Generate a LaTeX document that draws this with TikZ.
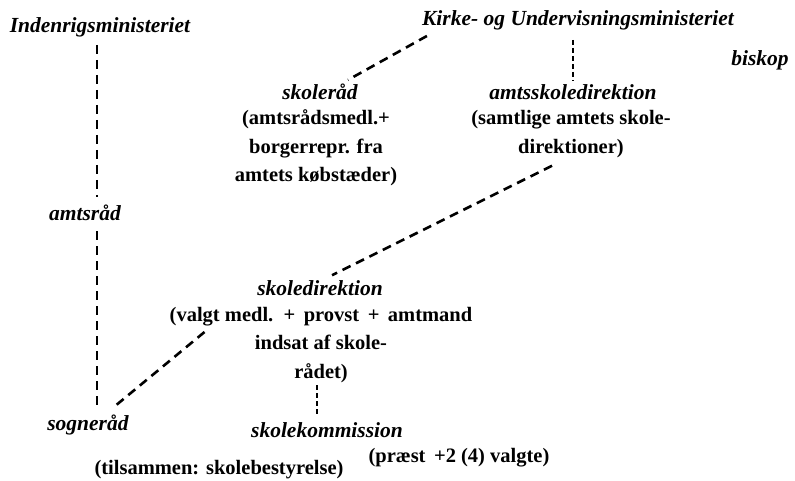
\documentclass[tikz,border=0pt]{standalone}
\usepackage{fontspec}
\setmainfont{Liberation Serif}
\usepackage{tikz}
\usetikzlibrary{calc}

\tikzset{
  orgname/.style={font=\fontsize{21.5}{28}\selectfont\bfseries\itshape, inner sep=2pt},
  orgdesc/.style={font=\fontsize{20.5}{28.5}\selectfont\bfseries, align=center, inner sep=2pt},
  link/.style={line width=2.6pt, dash pattern=on 9pt off 6pt},
  shortlink/.style={line width=2.4pt, dash pattern=on 5pt off 3pt}
}

\begin{document}
\begin{tikzpicture}[x=1pt,y=-1pt]

% Frame of the picture
\useasboundingbox (0,0) rectangle (795,480);

% Ministries
\node[orgname] (indenrig) at (100,27) {Indenrigsministeriet};
\node[orgname] (kirke) at (578,20) {Kirke- og Undervisningsministeriet};
\node[orgname] (biskop) at (760,60) {biskop};

% County level
\node[orgname] (skolerad) at (320,92) {skoleråd};
\node[orgdesc] (skoleraddesc) at (316,148) {(amtsrådsmedl.+\\ borgerrepr. fra\\ amtets købstæder)};
\node[orgname] (amtsskole) at (573,92) {amtsskoledirektion};
\node[orgdesc] (amtsskoledesc) at (571,134) {(samtlige amtets skole-\\ direktioner)};
\node[orgname] (amtsrad) at (85,213) {amtsråd};

% District level
\node[orgname] (skoledir) at (320,288) {skoledirektion};
\node[orgdesc] (skoledirdesc) at (321,345) {(valgt medl. \,+\, provst \,+\, amtmand\\ indsat af skole-\\ rådet)};

% Parish level
\node[orgname] (sognerad) at (88,425) {sogneråd};
\node[orgname] (skolekom) at (327,430) {skolekommission};
\node[orgdesc] (skolekomdesc) at (459,458) {(præst \,+2 (4) valgte)};
\node[orgdesc] (tilsammen) at (219,470) {(tilsammen: skolebestyrelse)};

% Dashed connections
\draw[link] ([xshift=-3pt,yshift=-6pt]indenrig.south) -- ([xshift=-3pt,yshift=6pt]indenrig.south |- amtsrad.north);
\draw[link] ([xshift=-3pt,yshift=-8pt]indenrig.south |- amtsrad.south) -- ([xshift=-3pt,yshift=6pt]indenrig.south |- sognerad.north);
\draw[link] ([xshift=7pt,yshift=-4pt]kirke.south west) -- ([xshift=28pt,yshift=2pt]skolerad.north);
\draw[shortlink] ([yshift=-8pt]amtsskole.north |- kirke.south) -- ([yshift=2pt]amtsskole.north);
\draw[link] ([xshift=-19pt,yshift=-6pt]amtsskoledesc.south) -- ([xshift=12pt,yshift=3pt]skoledir.north);
\draw[link] ([xshift=37pt,yshift=-27pt]skoledirdesc.north west) -- ([xshift=25pt,yshift=5pt]sognerad.north);
\draw[shortlink] ([xshift=-4pt]skoledirdesc.south) -- ([xshift=-4pt,yshift=4pt]skoledirdesc.south |- skolekom.north);

\end{tikzpicture}
\end{document}
